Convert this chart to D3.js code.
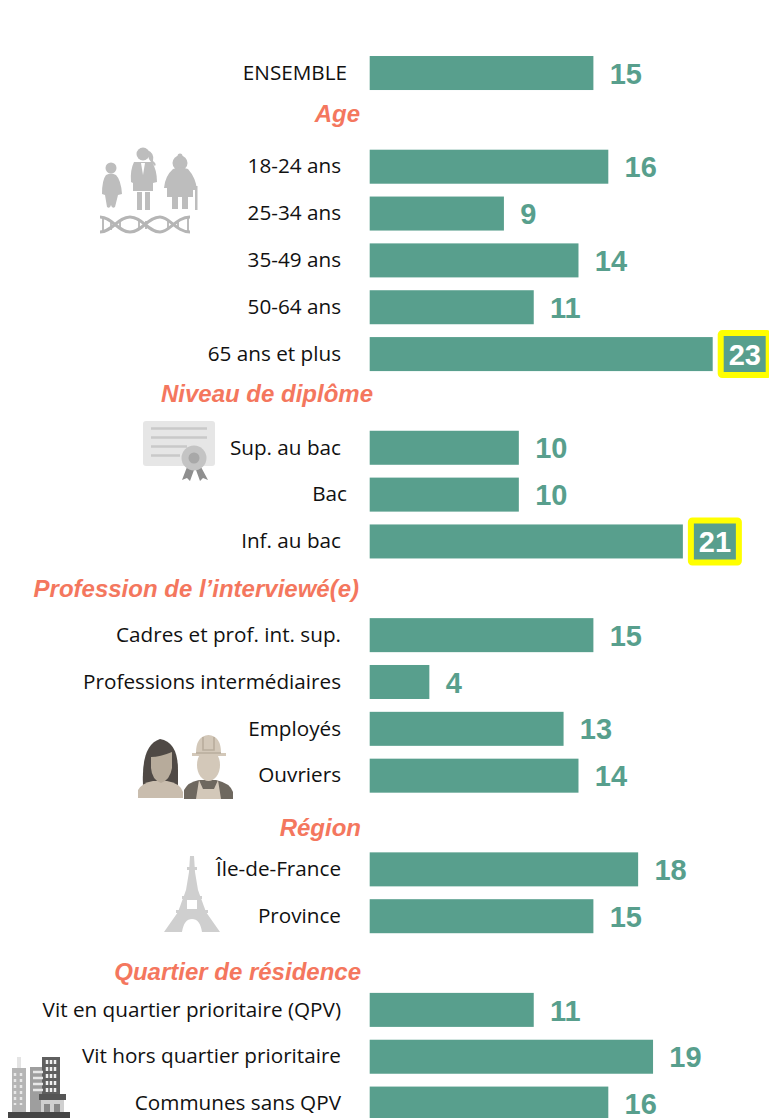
<!DOCTYPE html>
<html lang="fr">
<head>
<meta charset="utf-8">
<title>Barres par sous-population</title>
<script src="https://cdn.jsdelivr.net/npm/d3@7"></script>
<style>
  body { margin: 0; background: #fff; }
  svg { display: block; }
  .label { font-family: "Open Sans", sans-serif; font-size: 20.7px; fill: #111; text-anchor: end; }
  .value { font-family: "Liberation Sans", Arial, sans-serif; font-size: 29px; font-weight: bold; fill: #589f8d; }
  .head { font-family: "Liberation Sans", Arial, sans-serif; font-size: 24px; font-weight: bold; font-style: italic; fill: #f4775e; text-anchor: end; }
</style>
</head>
<body>
<div id="chart"></div>
<script>
// data
const categories = ["ENSEMBLE", "18-24 ans", "25-34 ans", "35-49 ans", "50-64 ans", "65 ans et plus",
  "Sup. au bac", "Bac", "Inf. au bac",
  "Cadres et prof. int. sup.", "Professions intermédiaires", "Employés", "Ouvriers",
  "Île-de-France", "Province",
  "Vit en quartier prioritaire (QPV)", "Vit hors quartier prioritaire", "Communes sans QPV"];
const values = [15, 16, 9, 14, 11, 23, 10, 10, 21, 15, 4, 13, 14, 18, 15, 11, 19, 16];
const highlighted = ["65 ans et plus", "Inf. au bac"];
// rows left empty by the group headings
const slots = [0, 2, 3, 4, 5, 6, 8, 9, 10, 12, 13, 14, 15, 17, 18, 20, 21, 22];
const headings = ["Age", "Niveau de diplôme", "Profession de l’interviewé(e)", "Région", "Quartier de résidence"];

const WIDTH = 769, HEIGHT = 1118;
const GREEN = "#589f8d";

const svg = d3.select("#chart").append("svg")
  .attr("width", WIDTH).attr("height", HEIGHT)
  .attr("viewBox", [0, 0, WIDTH, HEIGHT]);

const soft = svg.append("defs").append("filter").attr("id", "soft");
soft.append("feGaussianBlur").attr("stdDeviation", 0.45);

const x = d3.scaleLinear().domain([0, 23]).range([369.7, 712.7]);
const y = d3.scaleBand().domain(d3.range(23)).range([49.6, 1127.0]).paddingInner(0.274).paddingOuter(0.137);

const rows = categories.map((c, i) => ({ name: c, value: values[i], slot: slots[i] }));
const isHi = d => highlighted.includes(d.name);

// bars
svg.selectAll("rect.bar").data(rows).join("rect")
  .attr("class", "bar")
  .attr("x", x(0))
  .attr("y", d => y(d.slot))
  .attr("width", d => x(d.value) - x(0))
  .attr("height", y.bandwidth())
  .attr("fill", GREEN);

// category labels (ENSEMBLE and Bac sit a little further right)
svg.selectAll("text.label").data(rows).join("text")
  .attr("class", "label")
  .attr("x", d => (d.name === "ENSEMBLE" || d.name === "Bac") ? 347 : 341)
  .attr("y", d => y(d.slot) + y.bandwidth() / 2 - 0.5)
  .attr("dy", ".35em")
  .text(d => d.name);

// yellow boxes
svg.selectAll("rect.box").data(rows.filter(isHi)).join("rect")
  .attr("class", "box")
  .attr("x", d => x(d.value) + 8)
  .attr("y", d => y(d.slot) - 4)
  .attr("width", 48)
  .attr("height", 42)
  .attr("rx", 1.5)
  .attr("fill", GREEN)
  .attr("stroke", "#ffff00")
  .attr("stroke-width", 6);

// values
svg.selectAll("text.value").data(rows).join("text")
  .attr("class", "value")
  .attr("x", d => x(d.value) + (isHi(d) ? 16 : 16.3))
  .attr("y", d => y(d.slot) + y.bandwidth() / 2 + 0.5)
  .attr("dy", ".35em")
  .style("fill", d => isHi(d) ? "#fff" : null)
  .text(d => d.value);

// group headings
const headX = [360, 373, 359, 361, 361];
const headY = [122, 402, 597, 836, 980];
svg.selectAll("text.head").data(headings).join("text")
  .attr("class", "head")
  .attr("x", (d, i) => headX[i])
  .attr("y", (d, i) => headY[i])
  .text(d => d);

// pictos
const icons = svg.append("g").attr("class", "icons").attr("filter", "url(#soft)");

// family + dna
const fam = icons.append("g").attr("fill", "#bdbdbd");
fam.append("circle").attr("cx", 111).attr("cy", 168).attr("r", 5.5);
fam.append("path").attr("d", "M106 175 Q111 172 116 175 Q121 180 122 194 L118 195 L115 207 Q112 209 111 205 Q110 209 107 207 L105 195 L102 194 Q102 180 106 175 Z");
fam.append("circle").attr("cx", 143).attr("cy", 154).attr("r", 6.5);
fam.append("path").attr("d", "M147 150 Q155 153 153 161 Q157 164 155 166 Q149 161 148 156 Z");
fam.append("path").attr("d", "M134 162 L152 162 Q157 170 157 182 L153 183 L153 191 L133 191 L133 183 L131 182 Q130 170 134 162 Z");
fam.append("path").attr("fill", "#fff").attr("d", "M141 163H145L143 175Z");
fam.append("rect").attr("x", 137).attr("y", 192).attr("width", 5).attr("height", 18);
fam.append("rect").attr("x", 145).attr("y", 192).attr("width", 5).attr("height", 18);
fam.append("circle").attr("cx", 180).attr("cy", 163).attr("r", 7.5);
fam.append("circle").attr("cx", 180).attr("cy", 156).attr("r", 2.5);
fam.append("path").attr("d", "M173 169 Q180 166 188 169 Q196 178 197 190 L193 190 L193 197 L167 197 L167 188 L164 188 Q165 176 173 169 Z");
fam.append("rect").attr("x", 172).attr("y", 197).attr("width", 6).attr("height", 12);
fam.append("rect").attr("x", 182).attr("y", 197).attr("width", 6).attr("height", 12);
fam.append("rect").attr("x", 195).attr("y", 186).attr("width", 2.5).attr("height", 24);
const dna = icons.append("g").attr("fill", "none").attr("stroke", "#b5b5b5");
dna.append("path").attr("stroke-width", 3).attr("d", "M100 217 C112 217 118 232 130 232 C142 232 148 217 160 217 C170 217 176 232 190 232");
dna.append("path").attr("stroke-width", 3).attr("d", "M100 232 C112 232 118 217 130 217 C142 217 148 232 160 232 C170 232 176 217 190 217");
dna.append("path").attr("stroke-width", 1.8).attr("d", "M103 217V232M111 220V230M120 222V228M139 221V229M146 221V229M168 221V229M178 221V229M188 217V232");

// diploma
const dip = icons.append("g");
dip.append("rect").attr("x", 143).attr("y", 421).attr("width", 72).attr("height", 45).attr("rx", 3).attr("fill", "#e6e6e6");
dip.append("path").attr("stroke", "#c9c9c9").attr("stroke-width", 2.5)
  .attr("d", "M151 428.5H207M151 437.5H207M151 446.5H187M151 455.5H180");
dip.append("path").attr("fill", "#8f8f8f").attr("d", "M187 467L182 480L187 478L190 481L194 470ZM196 470L200 481L203 478L208 480L201 467Z");
dip.append("circle").attr("cx", 194).attr("cy", 458).attr("r", 12.5).attr("fill", "#c4c4c4");
dip.append("circle").attr("cx", 194).attr("cy", 458).attr("r", 5.5).attr("fill", "#a8a8a8");

// woman and worker
const ppl = icons.append("g");
ppl.append("path").attr("fill", "#4f4a45").attr("d", "M143 785 Q141 745 160 739 Q178 742 178 770 L178 785 Z");
ppl.append("path").attr("fill", "#c9bdae").attr("d", "M138 798 L138 790 Q142 783 153 781 L167 781 Q180 783 183 792 L183 798 Z");
ppl.append("path").attr("fill", "#b7ab9b").attr("d", "M151 757 Q160 757 172 752 L172 768 Q170 780 161 783 Q152 780 151 768 Z");
ppl.append("path").attr("fill", "#6e675f").attr("d", "M184 799 L184 790 Q188 782 199 780 L216 780 Q230 783 233 792 L233 799 Z");
ppl.append("path").attr("fill", "#d3c8b9").attr("d", "M199 780 L203 789 L214 789 L218 780 L221 799 L196 799 Z");
ppl.append("ellipse").attr("cx", 208.5).attr("cy", 765).attr("rx", 11.5).attr("ry", 16).attr("fill", "#d3c8b9");
ppl.append("path").attr("fill", "#d3c8b9").attr("d", "M192 753 L196 753 Q196 736 208.5 735 Q221 736 221 753 L226 753 L226 756 L192 756 Z");
ppl.append("path").attr("fill", "none").attr("stroke", "#b9ad9d").attr("stroke-width", 1.6).attr("d", "M203 737V750H214V737M196 753H221");

// eiffel tower
const tow = icons.append("g").attr("fill", "#cfcfcf");
tow.append("path").attr("d", "M190 856H194L195 872L198 890L186 890L189 872Z");
tow.append("rect").attr("x", 187).attr("y", 867).attr("width", 10).attr("height", 3);
tow.append("path").attr("d", "M186 890H198L206 912H178Z");
tow.append("rect").attr("x", 182).attr("y", 896).attr("width", 20).attr("height", 3);
tow.append("rect").attr("x", 176).attr("y", 910).attr("width", 32).attr("height", 3);
tow.append("path").attr("d", "M178 912H206L220 932H202Q200 919 192 919Q184 919 182 932H164Z");
tow.append("rect").attr("fill", "#fff").attr("x", 187).attr("y", 900).attr("width", 10).attr("height", 9);

// buildings
const bld = icons.append("g");
bld.append("path").attr("fill", "#e4e4e4").attr("d", "M17 1057H21V1070H17Z");
bld.append("rect").attr("x", 12).attr("y", 1068).attr("width", 14).attr("height", 45).attr("fill", "#b5b5b5");
bld.append("rect").attr("x", 30).attr("y", 1067).attr("width", 14).attr("height", 46).attr("fill", "#9e9e9e");
bld.append("rect").attr("x", 42).attr("y", 1057).attr("width", 18).attr("height", 40).attr("fill", "#5f5f5f");
bld.append("path").attr("stroke", "#e8e8e8").attr("stroke-width", 2.5).attr("d", "M33 1072H43M33 1078H43M33 1084H43M33 1090H43");
bld.append("path").attr("stroke", "#e8e8e8").attr("stroke-width", 2.5).attr("stroke-dasharray", "3 3").attr("d", "M15 1073V1105M21 1073V1105");
bld.append("path").attr("stroke", "#f0f0f0").attr("stroke-width", 2.5).attr("stroke-dasharray", "4 3").attr("d", "M47 1060V1092M51 1060V1092M55 1060V1092");
bld.append("rect").attr("x", 39).attr("y", 1094).attr("width", 27).attr("height", 6).attr("fill", "#555");
bld.append("rect").attr("x", 41).attr("y", 1100).attr("width", 23).attr("height", 12).attr("fill", "#d0d0d0");
bld.append("rect").attr("x", 44).attr("y", 1104).attr("width", 6).attr("height", 8).attr("fill", "#888");
bld.append("rect").attr("x", 54).attr("y", 1104).attr("width", 6).attr("height", 8).attr("fill", "#888");
bld.append("rect").attr("x", 8).attr("y", 1112).attr("width", 62).attr("height", 6).attr("fill", "#444");
</script>
</body>
</html>
